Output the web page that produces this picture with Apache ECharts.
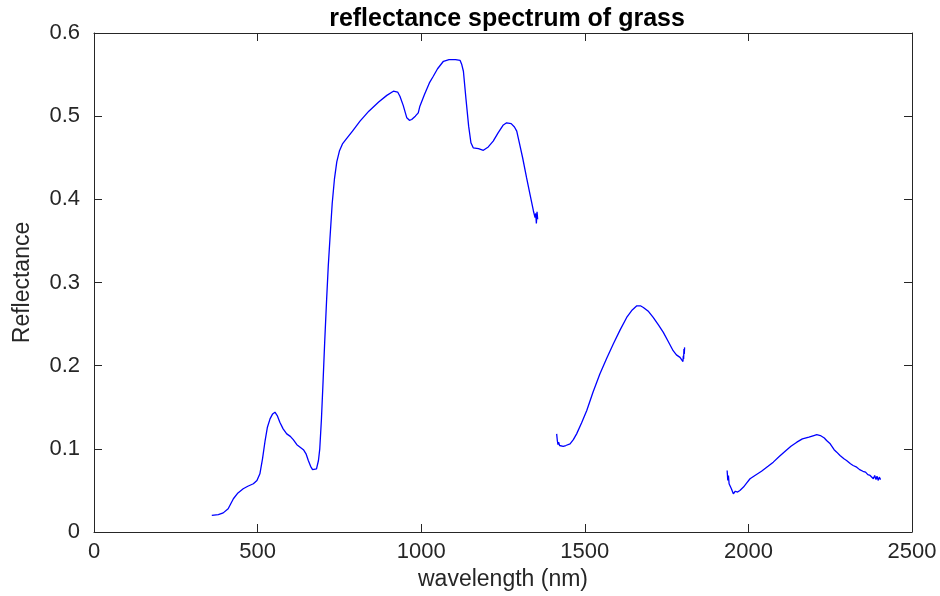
<!DOCTYPE html>
<html>
<head>
<meta charset="utf-8">
<script src="https://cdn.jsdelivr.net/npm/echarts@6/dist/echarts.min.js"></script>
<style>
  html, body { margin: 0; padding: 0; background: #fff; }
  #chart { width: 940px; height: 596px; }
</style>
</head>
<body>
<div id="chart"></div>
<script>
// spectrum pieces (water absorption bands are gaps)
const wl1 = [360, 380, 395, 410, 426, 440, 456, 470, 487, 498, 507, 515, 523, 530, 538, 546, 553, 560, 568, 578,
  589, 600, 609, 620, 630, 640, 648, 655, 662, 668, 673, 680, 686, 690, 695, 700, 705, 711, 716,
  721, 728, 735, 742, 750, 760, 770, 790, 813, 840, 870, 895, 915, 928, 935, 945, 956, 964, 971, 982,
  991, 996, 1010, 1025, 1037, 1050, 1068, 1085, 1105, 1119, 1124, 1129, 1137, 1145, 1152, 1159, 1175, 1190, 1205, 1220,
  1235, 1250, 1261, 1275, 1285, 1292, 1300, 1310, 1322, 1333, 1343, 1348, 1350, 1352, 1354, 1356]
const refl1 = [0.020, 0.021, 0.023, 0.028, 0.040, 0.047, 0.052, 0.055, 0.058, 0.062, 0.070, 0.088, 0.110, 0.126, 0.136, 0.142, 0.144, 0.140, 0.132, 0.124,
  0.118, 0.115, 0.111, 0.105, 0.102, 0.099, 0.094, 0.086, 0.079, 0.075, 0.074, 0.076, 0.086, 0.100, 0.135, 0.180, 0.228, 0.280, 0.320,
  0.352, 0.395, 0.425, 0.445, 0.458, 0.467, 0.472, 0.482, 0.494, 0.506, 0.517, 0.525, 0.530, 0.529, 0.524, 0.513, 0.498, 0.495, 0.496, 0.500,
  0.504, 0.512, 0.526, 0.540, 0.548, 0.557, 0.566, 0.568, 0.568, 0.567, 0.562, 0.554, 0.520, 0.488, 0.468, 0.462, 0.461, 0.459, 0.463, 0.470,
  0.480, 0.489, 0.492, 0.491, 0.487, 0.482, 0.468, 0.450, 0.426, 0.405, 0.386, 0.378, 0.383, 0.371, 0.385, 0.376]

const wl2 = [1414, 1416, 1418, 1420, 1423, 1428, 1434, 1442, 1455, 1465, 1475, 1490, 1506, 1525, 1546, 1567, 1587, 1608, 1628, 1645,
  1659, 1670, 1679, 1695, 1709, 1725, 1740, 1755, 1770, 1780, 1791, 1797, 1800, 1801, 1802, 1803, 1804, 1805]
const refl2 = [0.118, 0.110, 0.105, 0.108, 0.104, 0.106, 0.103, 0.104, 0.106, 0.111, 0.118, 0.131, 0.146, 0.168, 0.190, 0.209, 0.226, 0.243, 0.258, 0.267,
  0.272, 0.272, 0.270, 0.265, 0.258, 0.249, 0.240, 0.229, 0.218, 0.213, 0.210, 0.209, 0.205, 0.212, 0.208, 0.220, 0.214, 0.222]

const wl3 = [1935, 1937, 1939, 1941, 1944, 1948, 1951, 1954, 1960, 1967, 1974, 1985, 1995, 2005, 2020, 2040, 2060, 2076, 2095, 2115,
  2130, 2148, 2165, 2185, 2200, 2209, 2220, 2232, 2239, 2250, 2262, 2270, 2280, 2292, 2300, 2312, 2320, 2331, 2340, 2350,
  2358, 2365, 2372, 2378, 2382, 2386, 2390, 2393, 2397, 2400, 2404]
const refl3 = [0.074, 0.062, 0.068, 0.058, 0.060, 0.052, 0.054, 0.046, 0.049, 0.048, 0.050, 0.054, 0.059, 0.064, 0.068, 0.073, 0.079, 0.084, 0.091, 0.098,
  0.103, 0.108, 0.112, 0.114, 0.116, 0.117, 0.116, 0.113, 0.110, 0.106, 0.099, 0.096, 0.092, 0.088, 0.086, 0.082, 0.080, 0.078, 0.075, 0.073,
  0.072, 0.069, 0.068, 0.070, 0.064, 0.068, 0.063, 0.067, 0.062, 0.066, 0.063]

const xTicks = [0, 500, 1000, 1500, 2000, 2500]
const yTicks = [0, 0.1, 0.2, 0.3, 0.4, 0.5, 0.6]

const pairs = (xs, ys) => xs.map((x, i) => [x, ys[i]])
const textColor = '#262626'
const font = 'Liberation Sans, Arial, Helvetica, sans-serif'

const myChart = echarts.init(document.getElementById('chart'), null, { width: 940, height: 596 })

const axisCommon = {
  axisLine: { show: true, onZero: false, lineStyle: { color: textColor, width: 1 } },
  axisTick: { show: true, inside: true, length: 8, lineStyle: { color: textColor } },
  splitLine: { show: false }
}

const lineSeries = (data) => ({
  type: 'line',
  data: data,
  showSymbol: false,
  symbol: 'none',
  lineStyle: { color: '#0000ff', width: 1.3 },
  animation: false
})

let option = {
  backgroundColor: '#fff',
  title: {
    text: 'reflectance spectrum of grass',
    left: 502,
    textAlign: 'center',
    top: 2,
    textStyle: { fontFamily: font, fontSize: 25, fontWeight: 'bold', color: '#000' }
  },
  grid: { left: 94, right: 28, top: 33, bottom: 64 },
  xAxis: [
    Object.assign({}, axisCommon, {
      type: 'value', min: xTicks[0], max: xTicks[xTicks.length - 1], interval: 500,
      name: 'wavelength (nm)', nameLocation: 'middle', nameGap: 36,
      nameTextStyle: { fontFamily: font, fontSize: 23, color: textColor },
      axisLabel: { margin: 9, fontFamily: font, fontSize: 22, color: textColor, formatter: v => String(v) }
    }),
    Object.assign({}, axisCommon, {
      type: 'value', position: 'top', min: xTicks[0], max: xTicks[xTicks.length - 1], interval: 500,
      axisLabel: { show: false }
    })
  ],
  yAxis: [
    Object.assign({}, axisCommon, {
      type: 'value', min: yTicks[0], max: yTicks[yTicks.length - 1], interval: 0.1,
      name: 'Reflectance', nameLocation: 'middle', nameGap: 60,
      nameTextStyle: { fontFamily: font, fontSize: 23, color: textColor },
      axisLabel: { margin: 14, fontFamily: font, fontSize: 22, color: textColor }
    }),
    Object.assign({}, axisCommon, {
      type: 'value', position: 'right', min: yTicks[0], max: yTicks[yTicks.length - 1], interval: 0.1,
      axisLabel: { show: false }
    })
  ],
  series: [
    lineSeries(pairs(wl1, refl1)),
    lineSeries(pairs(wl2, refl2)),
    lineSeries(pairs(wl3, refl3))
  ]
}

option && myChart.setOption(option)
</script>
</body>
</html>
